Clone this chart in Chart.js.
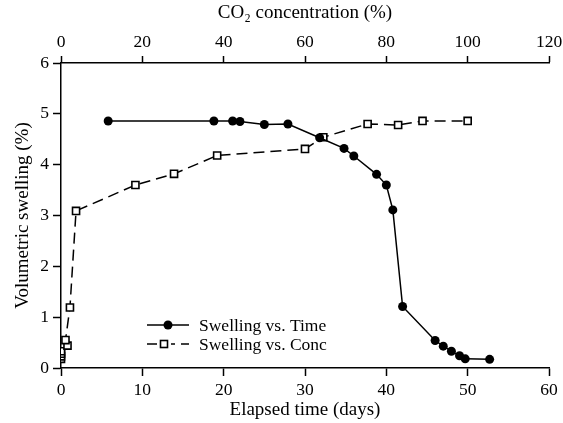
<!DOCTYPE html>
<html>
<head>
<meta charset="utf-8">
<script src="https://cdn.jsdelivr.net/npm/chart.js@4"></script>
<style>
  html, body { margin: 0; padding: 0; background: #fff; }
  #wrap { width: 563px; height: 423px; }
</style>
</head>
<body>
<div id="wrap"><canvas id="chart" width="563" height="423"></canvas></div>
<script>
// swelling vs elapsed time (bottom axis, days)
const timeDays = [5.8, 18.8, 21.1, 22.0, 25.0, 27.9, 31.8, 34.8, 36.0, 38.8, 40.0, 40.8, 42.0, 46.0, 47.0, 48.0, 49.0, 49.7, 52.7];
const timeSwelling = [4.86, 4.86, 4.86, 4.85, 4.79, 4.80, 4.53, 4.32, 4.17, 3.81, 3.60, 3.11, 1.21, 0.54, 0.43, 0.33, 0.24, 0.18, 0.17];

// swelling vs CO2 concentration (top axis, %)
const concPercent = [0, 0, 0, 0, 1.6, 1.1, 2.2, 3.7, 18.3, 27.8, 38.4, 60.0, 64.5, 75.4, 82.9, 88.9, 100];
const concSwelling = [0.18, 0.23, 0.28, 0.33, 0.44, 0.55, 1.19, 3.09, 3.60, 3.82, 4.18, 4.31, 4.54, 4.80, 4.78, 4.86, 4.86];

const timeTicks = [0, 10, 20, 30, 40, 50, 60];
const concTicks = [0, 20, 40, 60, 80, 100, 120];
const swellTicks = [0, 1, 2, 3, 4, 5, 6];

const serif = "'Liberation Serif', 'DejaVu Serif', serif";

function toPoints(xs, ys) {
  return xs.map((x, i) => ({ x: x, y: ys[i] }));
}

// legend drawn inside the plot: short line sample + marker + label
const insideLegend = {
  id: "insideLegend",
  afterDraw(chart) {
    const ctx = chart.ctx;
    const rows = [
      { ds: chart.data.datasets[0], y: 325 },
      { ds: chart.data.datasets[1], y: 344 },
    ];
    ctx.save();
    rows.forEach((row) => {
      const ds = row.ds;
      ctx.strokeStyle = ds.borderColor;
      ctx.lineWidth = ds.borderWidth;
      ctx.setLineDash(ds.borderDash || []);
      ctx.beginPath();
      ctx.moveTo(147, row.y);
      ctx.lineTo(189, row.y);
      ctx.stroke();
      ctx.setLineDash([]);
      ctx.lineWidth = ds.pointBorderWidth;
      ctx.strokeStyle = ds.pointBorderColor;
      if (ds.pointStyle === "rect") {
        ctx.fillStyle = "#fff";
        ctx.fillRect(157, row.y - 6, 14, 12);
        ctx.fillStyle = ds.pointBackgroundColor;
        ctx.fillRect(164 - 3.5, row.y - 3.5, 7, 7);
        ctx.strokeRect(164 - 3.5, row.y - 3.5, 7, 7);
      } else {
        ctx.fillStyle = ds.pointBackgroundColor;
        ctx.beginPath();
        ctx.arc(168, row.y, 4.5, 0, Math.PI * 2);
        ctx.fill();
      }
      ctx.fillStyle = "#000";
      ctx.font = "17.5px " + serif;
      ctx.textBaseline = "middle";
      ctx.fillText(ds.label, 199, row.y + 1);
    });
    ctx.restore();
  },
};

function axisFont(size) {
  return { family: serif, size: size };
}

const config = {
  type: "line",
  data: {
    datasets: [
      {
        label: "Swelling vs. Time",
        data: toPoints(timeDays, timeSwelling),
        xAxisID: "x",
        yAxisID: "y",
        borderColor: "#000",
        borderWidth: 1.5,
        pointStyle: "circle",
        pointRadius: 4.5,
        pointBackgroundColor: "#000",
        pointBorderColor: "#000",
        pointBorderWidth: 0,
        tension: 0,
      },
      {
        label: "Swelling vs. Conc",
        data: toPoints(concPercent, concSwelling),
        xAxisID: "x2",
        yAxisID: "y",
        borderColor: "#000",
        borderWidth: 1.5,
        borderDash: [11, 6],
        pointStyle: "rect",
        pointRadius: 5,
        pointBackgroundColor: "#fff",
        pointBorderColor: "#000",
        pointBorderWidth: 1.6,
        tension: 0,
      },
    ],
  },
  options: {
    responsive: false,
    animation: false,
    layout: { padding: { left: 0, right: 14, top: 0, bottom: 0 } },
    plugins: { legend: { display: false }, tooltip: { enabled: false } },
    scales: {
      x: {
        type: "linear",
        position: "bottom",
        min: 0,
        max: 60,
        afterBuildTicks: (s) => { s.ticks = timeTicks.map((v) => ({ value: v })); },
        afterFit: (s) => { s.height = 55; s.paddingLeft = 0; s.paddingRight = 0; },
        grid: { drawOnChartArea: false, drawTicks: true, tickLength: 8, tickColor: "#000", tickWidth: 1.5 },
        border: { color: "#000", width: 1.5 },
        ticks: { color: "#000", font: axisFont(17.5), padding: 4, maxRotation: 0 },
        title: { display: true, text: "Elapsed time (days)", color: "#000", font: axisFont(19), padding: { top: 0, bottom: 2 } },
      },
      x2: {
        type: "linear",
        position: "top",
        min: 0,
        max: 120,
        afterBuildTicks: (s) => { s.ticks = concTicks.map((v) => ({ value: v })); },
        afterFit: (s) => { s.height = 63; s.paddingLeft = 0; s.paddingRight = 0; },
        grid: { drawOnChartArea: false, drawTicks: true, tickLength: 7, tickColor: "#000", tickWidth: 1.5 },
        border: { color: "#000", width: 1.5 },
        ticks: { color: "#000", font: axisFont(17.5), padding: 3, maxRotation: 0 },
        title: { display: true, text: "CO\u2082 concentration (%)", color: "#000", font: axisFont(19), padding: { top: 2, bottom: 0 } },
      },
      y: {
        type: "linear",
        position: "left",
        min: 0,
        max: 6,
        afterBuildTicks: (s) => { s.ticks = swellTicks.map((v) => ({ value: v })); },
        afterFit: (s) => { s.width = 61; s.paddingTop = 0; s.paddingBottom = 0; },
        grid: { drawOnChartArea: false, drawTicks: true, tickLength: 8, tickColor: "#000", tickWidth: 1.5 },
        border: { color: "#000", width: 1.5 },
        ticks: { color: "#000", font: axisFont(17.5), padding: 4 },
        title: { display: true, text: "Volumetric swelling (%)", color: "#000", font: axisFont(19), padding: { top: 12, bottom: 0 } },
      },
    },
  },
  plugins: [insideLegend],
};

const chart = new Chart(document.getElementById("chart"), config);
</script>
</body>
</html>
